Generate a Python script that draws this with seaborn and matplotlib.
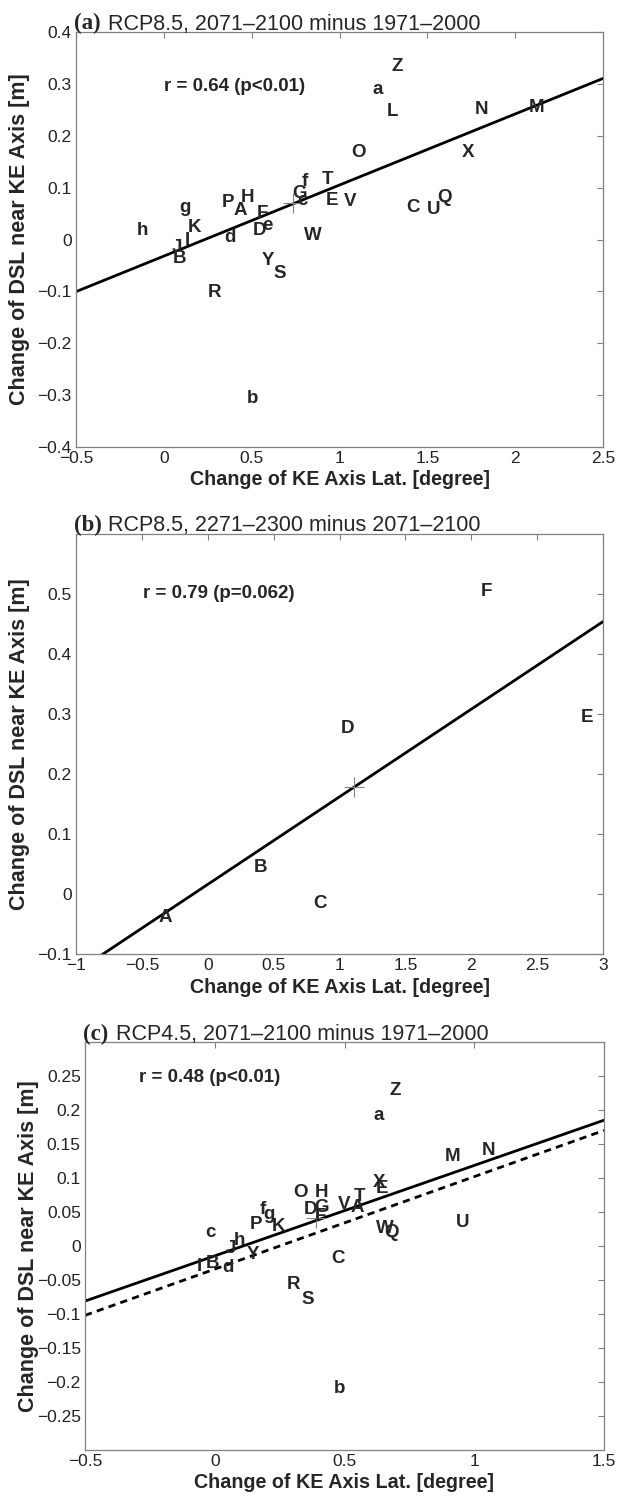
import numpy as np
import matplotlib
matplotlib.use('Agg')
import matplotlib.pyplot as plt
import seaborn as sns

sns.set_style('white')
plt.rcParams['font.family'] = ['Liberation Sans', 'DejaVu Sans']

# (a) RCP8.5, 2071-2100 minus 1971-2000 : model letters, KE axis lat change, DSL change
a_labels = ['Z', 'a', 'L', 'N', 'M', 'X', 'O', 'T', 'E', 'V', 'C', 'U', 'Q', 'f', 'G', 'c',
            'P', 'A', 'H', 'F', 'e', 'D', 'd', 'g', 'K', 'h', 'J', 'I', 'B', 'W', 'Y', 'S',
            'R', 'b']
a_x = [1.327, 1.219, 1.304, 1.811, 2.124, 1.731, 1.111, 0.929, 0.957, 1.059, 1.418, 1.538,
       1.600, 0.803, 0.775, 0.790, 0.365, 0.433, 0.479, 0.559, 0.587, 0.547, 0.376, 0.120,
       0.177, -0.119, 0.075, 0.132, 0.092, 0.849, 0.593, 0.661, 0.291, 0.507]
a_y = [0.333, 0.289, 0.246, 0.250, 0.254, 0.167, 0.167, 0.115, 0.076, 0.074, 0.062, 0.058,
       0.081, 0.111, 0.089, 0.076, 0.072, 0.056, 0.080, 0.051, 0.027, 0.018, 0.004, 0.062,
       0.024, 0.018, -0.016, -0.002, -0.037, 0.008, -0.040, -0.065, -0.103, -0.307]
a_fit = [(0.137, -0.032, 'solid')]
a_centre = (0.735, 0.070)

# (b) RCP8.5, 2271-2300 minus 2071-2100
b_labels = ['A', 'B', 'C', 'D', 'E', 'F']
b_x = [-0.32, 0.40, 0.853, 1.059, 2.877, 2.112]
b_y = [-0.040, 0.044, -0.016, 0.275, 0.294, 0.504]
b_fit = [(0.146, 0.016, 'solid')]
b_centre = (1.112, 0.178)

# (c) RCP4.5, 2071-2100 minus 1971-2000
c_labels = ['Z', 'a', 'M', 'N', 'X', 'E', 'O', 'H', 'D', 'G', 'F', 'V', 'T', 'A', 'W', 'Q',
            'U', 'f', 'g', 'P', 'K', 'c', 'h', 'J', 'Y', 'I', 'B', 'd', 'C', 'R', 'S', 'b']
c_x = [0.694, 0.633, 0.916, 1.056, 0.634, 0.646, 0.330, 0.413, 0.368, 0.413, 0.406, 0.497,
       0.558, 0.550, 0.657, 0.680, 0.954, 0.185, 0.208, 0.159, 0.246, -0.016, 0.094, 0.063,
       0.147, -0.059, -0.008, 0.052, 0.474, 0.302, 0.360, 0.482]
c_y = [0.228, 0.192, 0.131, 0.141, 0.093, 0.085, 0.078, 0.078, 0.053, 0.056, 0.044, 0.061,
       0.073, 0.056, 0.026, 0.020, 0.034, 0.053, 0.046, 0.031, 0.028, 0.020, 0.008, -0.003,
       -0.013, -0.030, -0.025, -0.032, -0.018, -0.057, -0.079, -0.209]
c_fit = [(0.133, -0.0145, 'solid'), (0.136, -0.034, 'dashed')]
c_centre = (0.39, 0.041)

a_xticks = [-0.5, 0, 0.5, 1, 1.5, 2, 2.5]
a_xticklabels = ['\u22120.5', '0', '0.5', '1', '1.5', '2', '2.5']
a_yticks = [-0.4, -0.3, -0.2, -0.1, 0, 0.1, 0.2, 0.3, 0.4]
a_yticklabels = ['\u22120.4', '\u22120.3', '\u22120.2', '\u22120.1', '0', '0.1', '0.2', '0.3', '0.4']

b_xticks = [-1, -0.5, 0, 0.5, 1, 1.5, 2, 2.5, 3]
b_xticklabels = ['\u22121', '\u22120.5', '0', '0.5', '1', '1.5', '2', '2.5', '3']
b_yticks = [-0.1, 0, 0.1, 0.2, 0.3, 0.4, 0.5]
b_yticklabels = ['\u22120.1', '0', '0.1', '0.2', '0.3', '0.4', '0.5']

c_xticks = [-0.5, 0, 0.5, 1, 1.5]
c_xticklabels = ['\u22120.5', '0', '0.5', '1', '1.5']
c_yticks = [-0.25, -0.2, -0.15, -0.1, -0.05, 0, 0.05, 0.1, 0.15, 0.2, 0.25]
c_yticklabels = ['\u22120.25', '\u22120.2', '\u22120.15', '\u22120.1', '\u22120.05', '0',
                 '0.05', '0.1', '0.15', '0.2', '0.25']

W, H = 620, 1497
fig = plt.figure(figsize=(W / 100, H / 100), dpi=100)


def add_ax(left, right, top, bottom):
    return fig.add_axes([left / W, 1 - bottom / H, (right - left) / W, (bottom - top) / H])


def panel(ax, tag, title, labels, xs, ys, fits, centre, rtext, rpos,
          xlim, ylim, xticks, xticklabels, yticks, yticklabels):
    ax.set_xlim(xlim)
    ax.set_ylim(ylim)
    line_x = np.array(xlim, dtype=float)
    for slope, icpt, style in fits:
        ls = '-' if style == 'solid' else (0, (2.6, 1.9))
        sns.lineplot(x=line_x, y=icpt + slope * line_x, ax=ax, color='black',
                     linewidth=2, linestyle=ls)
    ax.plot(centre[0], centre[1], marker='+', ms=15, mew=0.8, color='#808080')
    for lab, x, y in zip(labels, xs, ys):
        ax.text(x, y, lab, ha='center', va='center', fontsize=13.5, fontweight='bold')
    ax.text(rpos[0], rpos[1], rtext, ha='left', va='center', fontsize=13.5, fontweight='bold')

    ax.set_xticks(xticks)
    ax.set_xticklabels(xticklabels)
    ax.set_yticks(yticks)
    ax.set_yticklabels(yticklabels)
    ax.tick_params(direction='in', top=True, right=True, length=4, width=0.8,
                   color='#808080', labelsize=12.5, labelcolor='#222222', pad=3)
    for sp in ax.spines.values():
        sp.set_color('#808080')
        sp.set_linewidth(0.9)

    ax.set_xlabel('Change of KE Axis Lat. [degree]', fontsize=14.2, fontweight='bold')
    ax.set_ylabel('Change of DSL near KE Axis [m]', fontsize=15.5, fontweight='bold')
    ax.xaxis.set_label_coords(0.5, -0.056)
    ax.yaxis.set_label_coords(-0.088, 0.5)

    ax.text(-0.004, 1.006, tag, transform=ax.transAxes, ha='left', va='baseline',
            fontsize=16.5, fontweight='bold', family=['Liberation Serif', 'DejaVu Serif'])
    ax.text(0.06, 1.006, title, transform=ax.transAxes, ha='left', va='baseline',
            fontsize=15.5)


ax_a = add_ax(76, 603, 32, 447)
panel(ax_a, '(a)', 'RCP8.5, 2071\u20132100 minus 1971\u20132000', a_labels, a_x, a_y,
      a_fit, a_centre, 'r = 0.64 (p<0.01)', (0.0, 0.295), (-0.5, 2.5), (-0.4, 0.4),
      a_xticks, a_xticklabels, a_yticks, a_yticklabels)

ax_b = add_ax(76, 603, 534, 954)
panel(ax_b, '(b)', 'RCP8.5, 2271\u20132300 minus 2071\u20132100', b_labels, b_x, b_y,
      b_fit, b_centre, 'r = 0.79 (p=0.062)', (-0.49, 0.5), (-1, 3), (-0.1, 0.6),
      b_xticks, b_xticklabels, b_yticks, b_yticklabels)

ax_c = add_ax(85, 604, 1042, 1450)
panel(ax_c, '(c)', 'RCP4.5, 2071\u20132100 minus 1971\u20132000', c_labels, c_x, c_y,
      c_fit, c_centre, 'r = 0.48 (p<0.01)', (-0.29, 0.248), (-0.5, 1.5), (-0.3, 0.3),
      c_xticks, c_xticklabels, c_yticks, c_yticklabels)

fig.savefig('out.png', dpi=100)
